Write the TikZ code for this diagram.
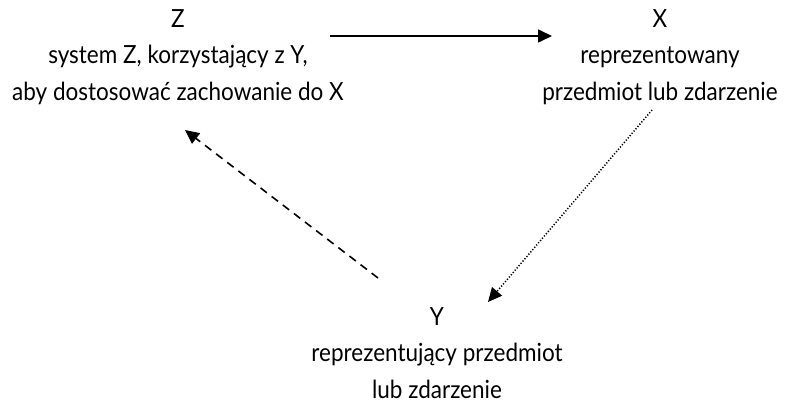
\documentclass[tikz,border=0pt]{standalone}
\usepackage{fontspec}
\setmainfont{Lato}[FakeStretch=0.9]
\usetikzlibrary{arrows.meta,calc}
\tikzset{
  lbl/.style={align=center, inner sep=0pt, font=\fontsize{25}{36.5}\selectfont},
  tip/.style={-{Triangle[length=14pt,width=13pt]}, line width=1.6pt},
  solidarr/.style={tip},
  dashedarr/.style={tip, dash pattern=on 8pt off 6pt},
  dottedarr/.style={tip, line width=1.5pt, dash pattern=on 1.2pt off 1.8pt}
}
\begin{document}
\begin{tikzpicture}[x=1pt,y=1pt]
\useasboundingbox (0,0) rectangle (786,-403);
\node[lbl] (Z) at (178,-57) {Z\\system Z, korzystający z Y,\\aby dostosować zachowanie do X};
\node[lbl] (X) at (660,-57) {X\\reprezentowany\\przedmiot lub zdarzenie};
\node[lbl] (Y) at (437,-353) {Y\\reprezentujący przedmiot\\lub zdarzenie};
\draw[solidarr] ($(Z.center)+(152,21)$) -- ($(X.center)+(-108,21)$);
\draw[dottedarr] ($(X.center)+(-8,-53)$) -- ($(Y.center)+(51,51)$);
\draw[dashedarr] ($(Y.center)+(-59,75)$) -- ($(Z.center)+(7,-73)$);
\end{tikzpicture}
\end{document}
